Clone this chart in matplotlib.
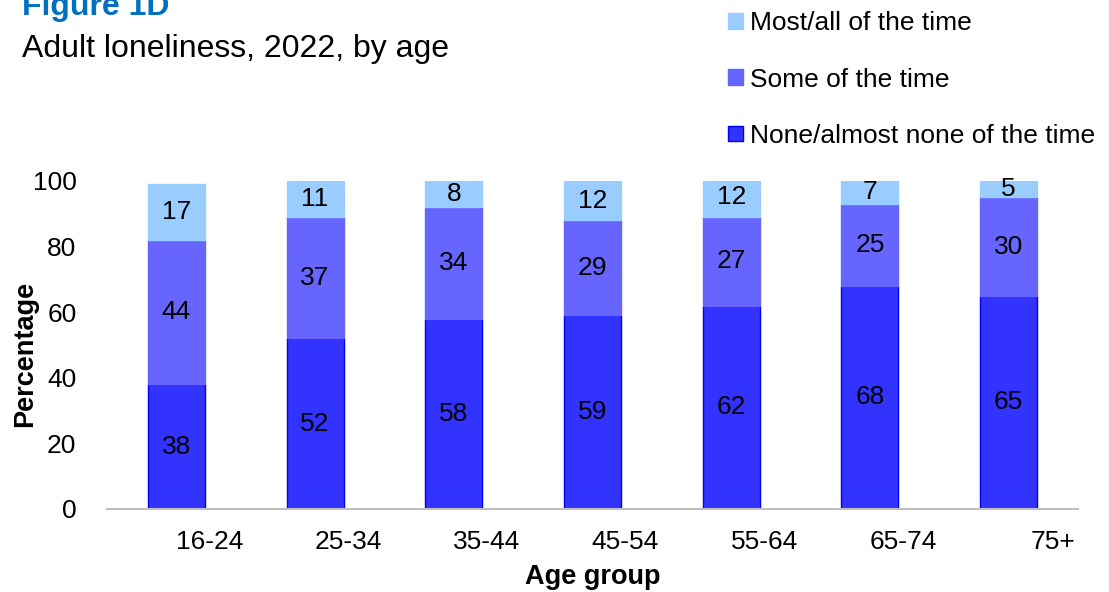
import matplotlib
matplotlib.use("Agg")
import matplotlib.pyplot as plt
from matplotlib.patches import Patch

plt.rcParams['font.family'] = ['Liberation Sans', 'DejaVu Sans']

categories = ["16-24", "25-34", "35-44", "45-54", "55-64", "65-74", "75+"]
none_time = [38, 52, 58, 59, 62, 68, 65]
some_time = [44, 37, 34, 29, 27, 25, 30]
most_time = [17, 11, 8, 12, 12, 7, 5]
series_names = ["None/almost none of the time", "Some of the time", "Most/all of the time"]

colors = ["#3333FF", "#6666FF", "#99CCFF"]
edges = ["#0000FF", "#6666FF", "#99CCFF"]

fig = plt.figure(figsize=(11.09, 5.92), dpi=100)
ax = fig.add_axes([107/1109, 1-509/592, (1078-107)/1109, (509-181)/592])

x = list(range(len(categories)))
bottoms = [0]*len(x)
for vals, c, ec in zip([none_time, some_time, most_time], colors, edges):
    ax.bar(x, vals, width=0.41, bottom=bottoms, color=c, edgecolor=ec, linewidth=1.0, zorder=2)
    for xi, b, v in zip(x, bottoms, vals):
        ax.text(xi, b + v/2, str(v), ha='center', va='center', fontsize=19, color='black', zorder=3)
    bottoms = [b + v for b, v in zip(bottoms, vals)]

ax.set_xlim(-0.5, 6.5)
ax.set_ylim(0, 100)
ax.set_yticks([0, 20, 40, 60, 80, 100])
ax.tick_params(axis='y', length=0, labelsize=19, pad=22)
ax.tick_params(axis='x', length=0)
ax.set_xticks([])
for xi, lab in zip(x, categories):
    ax.text(xi + 0.48, -6.5, lab, ha='right', va='top', fontsize=19, transform=ax.transData)

for s in ['left', 'right', 'top']:
    ax.spines[s].set_visible(False)
ax.spines['bottom'].set_color('#BFBFBF')
ax.spines['bottom'].set_linewidth(1.5)

fig.text(25/1109, 1-354/592, "Percentage", rotation=90, ha='center', va='center', fontsize=19.5, fontweight='bold')
fig.text(593/1109, 1-577/592, "Age group", ha='center', va='center', fontsize=19.5, fontweight='bold')

fig.text(22/1109, 1-15/592, "Figure 1D", ha='left', va='baseline', fontsize=23, fontweight='bold', color='#0070C0')
fig.text(22/1109, 1-57/592, "Adult loneliness, 2022, by age", ha='left', va='baseline', fontsize=23)

handles = [Patch(facecolor=colors[i], edgecolor=edges[i]) for i in [2, 1, 0]]
labels = [series_names[i] for i in [2, 1, 0]]
fig.legend(handles, labels, loc='upper left', bbox_to_anchor=(710/1109, 1+7/592), frameon=False,
           fontsize=19, handlelength=0.55, handleheight=0.55, handletextpad=0.25, labelspacing=1.22, borderpad=0.2)

fig.savefig("out.png", dpi=100)
